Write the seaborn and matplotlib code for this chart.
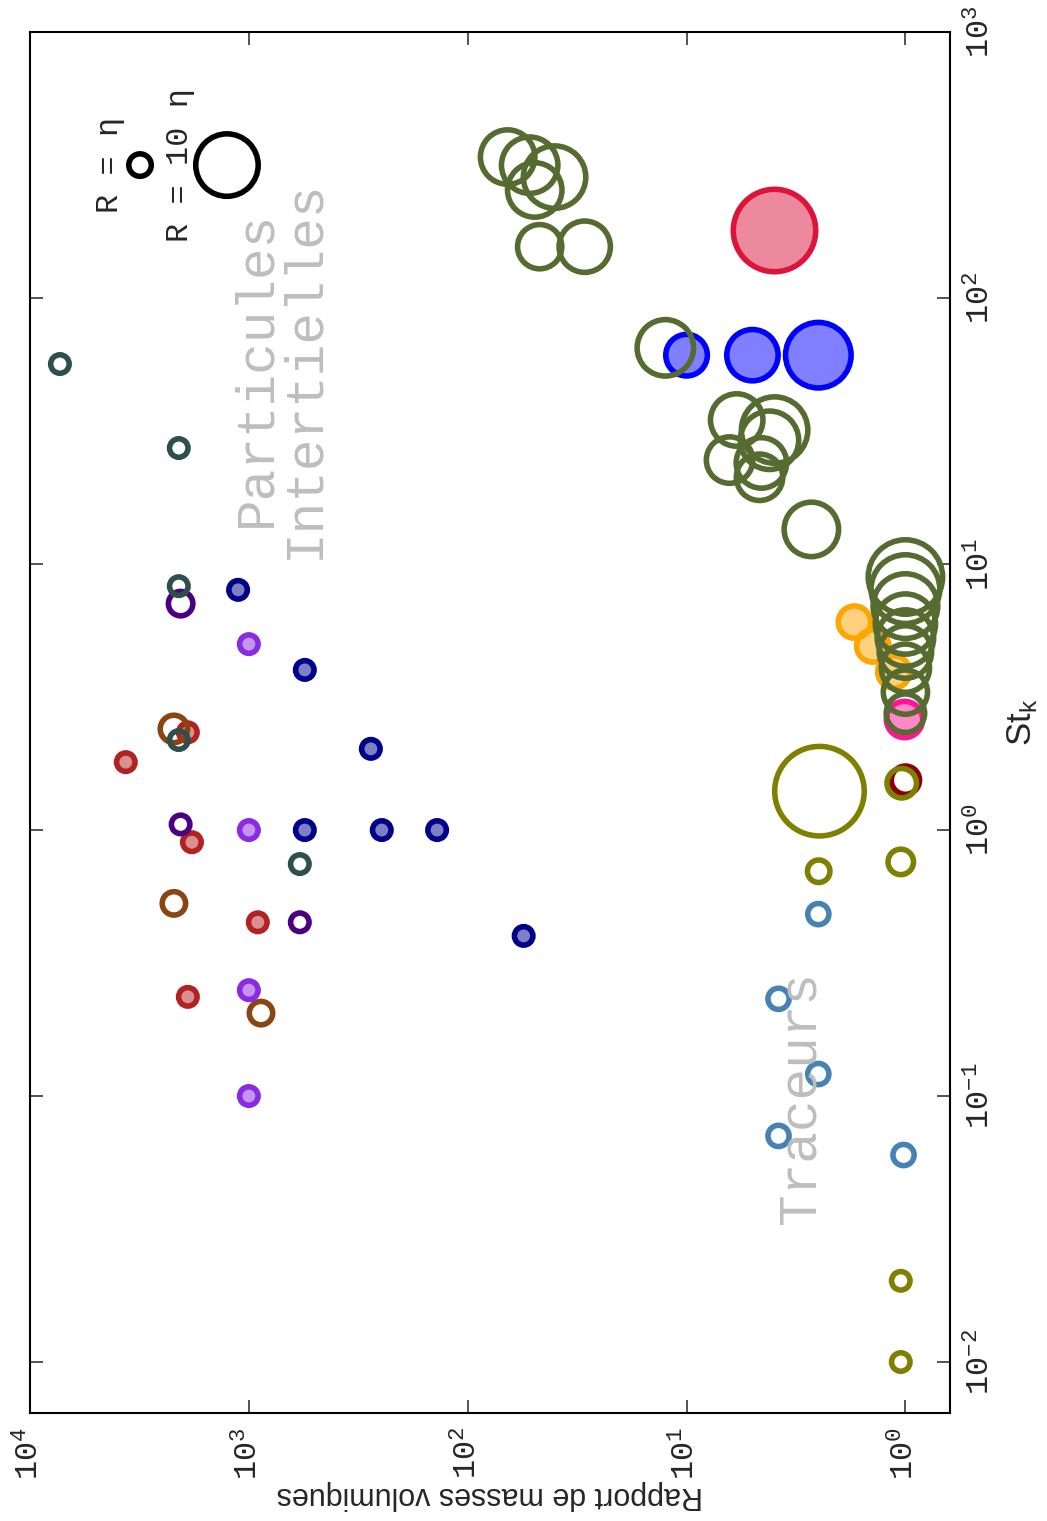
import numpy as np
import pandas as pd
import matplotlib
matplotlib.use("Agg")
import matplotlib.pyplot as plt
import seaborn as sns
from matplotlib.colors import to_rgba
from matplotlib.ticker import FixedLocator, FixedFormatter, NullLocator

# ---------------------------------------------------------------------------
# Data: density ratio, Stokes number St_k and particle radius R/eta per source
# ---------------------------------------------------------------------------
firebrick_ratio = [3650, 1900, 1820, 910, 1900]
firebrick_st = [1.8, 2.33, 0.90, 0.45, 0.236]
firebrick_r = [0.1, 0.1, 0.1, 0.1, 0.1]

saddlebrown_ratio = [2200, 2200, 880]
saddlebrown_st = [2.4, 0.53, 0.205]
saddlebrown_r = [2.1, 1.2, 1.2]

indigo_ratio = [2050, 2050, 585]
indigo_st = [7.1, 1.05, 0.45]
indigo_r = [1.44, 0.1, 0.1]

navy_ratio = [1120, 555, 277, 555, 247, 138, 55.5]
navy_st = [8.0, 4.0, 2.02, 1.0, 1.0, 1.0, 0.40]
navy_r = [0.1, 0.1, 0.1, 0.1, 0.1, 0.1, 0.1]

violet_ratio = [1000, 1000, 1000, 1000]
violet_st = [5.0, 1.0, 0.25, 0.1]
violet_r = [0.1, 0.1, 0.1, 0.1]

slate_ratio = [7300, 2090, 2090, 2090, 585]
slate_st = [56.5, 27.3, 8.26, 2.18, 0.745]
slate_r = [0.1, 0.1, 0.1, 0.1, 0.1]

steel_ratio = [2.5, 3.8, 2.5, 3.8, 1.02]
steel_st = [0.483, 0.232, 0.121, 0.0708, 0.060]
steel_r = [0.7, 0.7, 0.7, 0.7, 0.7]

darkred_ratio = [1.0]
darkred_st = [1.54]
darkred_r = [2.3]

olive_ratio = [1.05, 1.05, 1.05, 2.49, 2.47, 1.04]
olive_st = [0.0202, 0.01, 0.759, 0.70, 1.40, 1.50]
olive_r = [0.1, 0.1, 1.67, 1.0, 16.1, 2.57]

pink_ratio = [1.01]
pink_st = [2.61]
pink_r = [4.1]

orange_ratio = [1.71, 1.41, 1.13]
orange_st = [6.05, 4.92, 3.93]
orange_r = [3.2, 3.2, 3.2]

crimson_ratio = [4.0]
crimson_st = [180]
crimson_r = [14.5]

blue_ratio = [10, 5, 2.5]
blue_st = [61, 61, 61]
blue_r = [5.3, 7.5, 10.7]

green_ratio = [65.7, 52.1, 40.1, 49.4, 46.9, 29.2,
               12.5,
               5.9, 3.96, 4.18, 6.36, 4.55, 4.64,
               2.69,
               1.0, 1.0, 1.0, 1.0, 1.0, 1.0, 1.0, 1.0, 1.0]
green_st = [339, 316, 285, 255, 156, 156,
            65,
            34.8, 31.9, 29.2, 24.6, 24.0, 21.2,
            13.5,
            8.94, 8.05, 6.95, 5.95, 5.27, 4.67, 4.06, 3.30, 2.75]
green_r = [8.2, 8.65, 10.0, 8.2, 5.9, 7.5,
           8.65,
           7.75, 10.9, 9.1, 6.4, 7.3, 6.4,
           8.2,
           12.7, 11.4, 10.5, 9.5, 8.65, 7.75, 6.8, 5.9, 4.6]

ratio_ticks = [1, 10, 100, 1000, 10000]
ratio_labels = [r"$\mathregular{10^{0}}$", r"$\mathregular{10^{1}}$",
                r"$\mathregular{10^{2}}$", r"$\mathregular{10^{3}}$",
                r"$\mathregular{10^{4}}$"]
st_ticks = [1e-2, 1e-1, 1, 10, 100, 1000]
st_labels = [r"$\mathregular{10^{-2}}$", r"$\mathregular{10^{-1}}$",
             r"$\mathregular{10^{0}}$", r"$\mathregular{10^{1}}$",
             r"$\mathregular{10^{2}}$", r"$\mathregular{10^{3}}$"]

# ---------------------------------------------------------------------------
DPI = 100
EDGE_LW = 4.0  # ring thickness in points


def ring_diameter_px(r):
    """Outer marker diameter in pixels for a particle radius R/eta."""
    return 23.6 + 4.44 * np.asarray(r, dtype=float)


def marker_area(r):
    ms = ring_diameter_px(r) * 72.0 / DPI - EDGE_LW
    return ms ** 2


sns.set_style("white")
plt.rcParams["font.family"] = ["Liberation Mono", "DejaVu Sans Mono"]

fig = plt.figure(figsize=(10.47, 15.21), dpi=DPI)
ax = fig.add_axes([0.02865, 0.0710, 0.8787, 0.9079])

# (ratio, St, R, colour, filled) in drawing order
groups = [
    (firebrick_ratio, firebrick_st, firebrick_r, "#B22222", True),
    (saddlebrown_ratio, saddlebrown_st, saddlebrown_r, "#8B4513", False),
    (indigo_ratio, indigo_st, indigo_r, "#4B0082", False),
    (navy_ratio, navy_st, navy_r, "#00008B", True),
    (violet_ratio, violet_st, violet_r, "#8A2BE2", True),
    (slate_ratio, slate_st, slate_r, "#2F4F4F", False),
    (steel_ratio, steel_st, steel_r, "#4682B4", False),
    (darkred_ratio, darkred_st, darkred_r, "#8B0000", False),
    (olive_ratio, olive_st, olive_r, "#808000", False),
    (pink_ratio, pink_st, pink_r, "#FF1493", True),
    (orange_ratio, orange_st, orange_r, "#FFA500", True),
    (crimson_ratio, crimson_st, crimson_r, "#DC143C", True),
    (blue_ratio, blue_st, blue_r, "#0000FF", True),
    (green_ratio, green_st, green_r, "#556B2F", False),
]

for ratio, st, r, col, filled in groups:
    df = pd.DataFrame({"ratio": ratio, "st": st, "r": r})
    sns.scatterplot(data=df, x="ratio", y="st", ax=ax, s=marker_area(df["r"]),
                    color=col, edgecolor=col, linewidth=EDGE_LW,
                    legend=False, clip_on=False, zorder=3)
    coll = ax.collections[-1]
    coll.set_edgecolor(col)
    coll.set_facecolor(to_rgba(col, 0.5) if filled else "none")
    coll.set_linewidth(EDGE_LW)

ax.set_xscale("log")
ax.set_yscale("log")
ax.set_xlim(1e4, 10 ** -0.2037)
ax.set_ylim(10 ** -2.1917, 1e3)

ax.xaxis.set_major_locator(FixedLocator(ratio_ticks))
ax.xaxis.set_major_formatter(FixedFormatter(ratio_labels))
ax.xaxis.set_minor_locator(NullLocator())
ax.yaxis.set_major_locator(FixedLocator(st_ticks))
ax.yaxis.set_major_formatter(FixedFormatter(st_labels))
ax.yaxis.set_minor_locator(NullLocator())

ax.tick_params(which="major", direction="in", length=9.4, width=1.1,
               top=True, bottom=True, left=True, right=True,
               labelleft=False, labelright=True, labelbottom=True,
               labeltop=False, labelsize=23, labelrotation=90)
ax.tick_params(axis="y", pad=11)
ax.tick_params(axis="x", pad=10)
for tick in ax.yaxis.get_major_ticks():
    tick.label2.set_va("center")
for s in ax.spines.values():
    s.set_linewidth(1.5)
    s.set_color("black")

ax.set_xlabel("Rapport de masses volumiques", rotation=180,
              family="Liberation Sans", fontsize=22, labelpad=0)
ax.yaxis.set_label_position("right")
ax.set_ylabel(r"St$_\mathregular{k}$", rotation=90,
              family="Liberation Sans", fontsize=25, labelpad=6)

# Region annotations
ax.text(0.2717, 0.756, "Particules\nIntertielles", transform=ax.transAxes,
        rotation=90, ha="center", va="center", multialignment="center",
        fontsize=38, color="#BEBEBE", linespacing=0.95)
ax.text(0.837, 0.2288, "Traceurs", transform=ax.transAxes,
        rotation=90, ha="center", va="center",
        fontsize=38, color="#BEBEBE")

# Size key
key_y = 0.9037
ax.scatter([0.1196], [key_y], transform=ax.transAxes, s=marker_area([1.0]),
           facecolor="none", edgecolor="black", linewidth=EDGE_LW, zorder=4)
ax.scatter([0.2141], [key_y], transform=ax.transAxes, s=marker_area([10.0]),
           facecolor="none", edgecolor="black", linewidth=EDGE_LW, zorder=4)
ax.text(0.087, key_y, "R = η", transform=ax.transAxes, rotation=90,
        ha="center", va="center", fontsize=23)
ax.text(0.163, key_y, "R = 10 η", transform=ax.transAxes, rotation=90,
        ha="center", va="center", fontsize=23)

fig.savefig("out.png", dpi=DPI, facecolor="white")
